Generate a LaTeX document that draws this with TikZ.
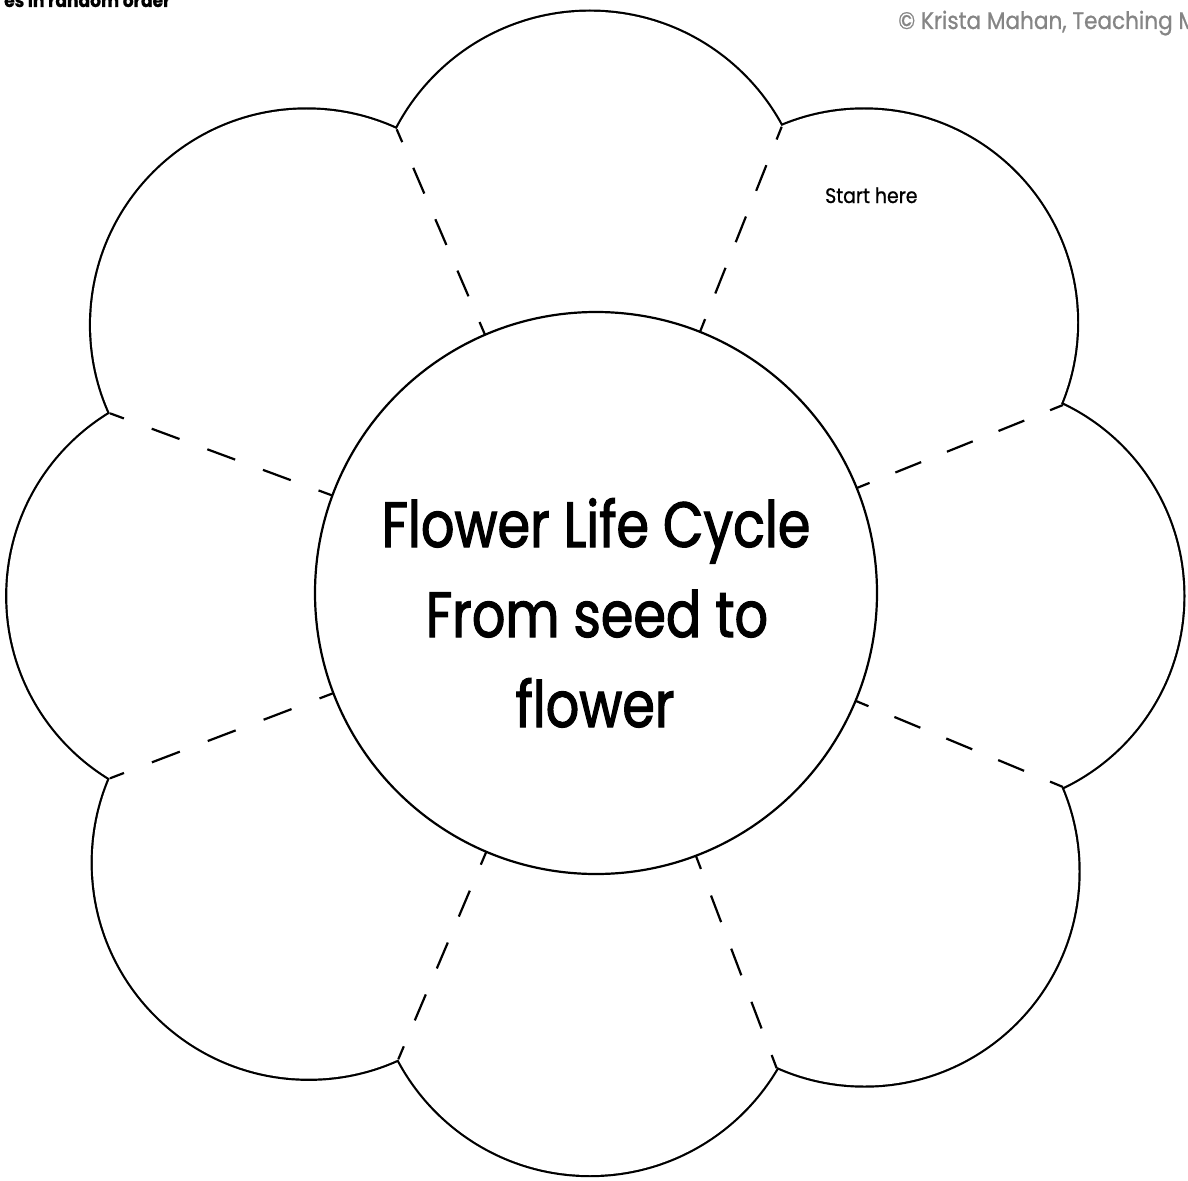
\documentclass[tikz,border=0pt]{standalone}
\usepackage{fontspec}
\setmainfont{Poppins}[FakeStretch=0.82]
\newfontfamily\titlefont{Poppins}[FakeStretch=0.82, FakeBold=1.8]
\newfontfamily\smallfont{Poppins}[FakeStretch=0.9, FakeBold=0.8]
\usetikzlibrary{calc}
\definecolor{copygray}{HTML}{858585}
\tikzset{
  petalline/.style={draw=black, line width=4.4pt},
  petalfill/.style={fill=white},
  cutdash/.style={draw=black, line width=2.2pt},
  hub/.style={circle, draw=black, line width=2.2pt, fill=white, minimum size=562pt, inner sep=0pt},
  titletext/.style={font=\titlefont\fontsize{64}{64}\selectfont, anchor=base, inner sep=0pt},
  smalltext/.style={font=\smallfont\fontsize{21}{21}\selectfont, anchor=base west, inner sep=0pt},
}
\newcommand\cutline[1]{%
  \coordinate (#1e) at ($(C)!281pt!(#1)$);
  \foreach \sa/\sb in {0/0.0625,0.1875/0.3125,0.4375/0.5625,0.6875/0.8125,0.9375/1}
    \draw[cutdash] ($(#1)!\sa!(#1e)$) -- ($(#1)!\sb!(#1e)$);
}
\begin{document}
\begin{tikzpicture}[x=1pt,y=-1pt]
\useasboundingbox (0,0) rectangle (1188,1180);
\clip (0,0) rectangle (1188,1180);
\fill[white] (0,0) rectangle (1188,1180);
% centre and petal centres
\coordinate (C) at (596,593);
\coordinate (P1) at (589.85,229.1);
\coordinate (P2) at (864,322.5);
\coordinate (P3) at (971.5,596);
\coordinate (P4) at (864.5,871.5);
\coordinate (P5) at (590,958.4);
\coordinate (P6) at (308.8,862.7);
\coordinate (P7) at (220.8,596);
\coordinate (P8) at (306.6,325);
% junctions
\coordinate (J1) at (396.7,129.3);
\coordinate (J2) at (781.7,126.7);
\coordinate (J3) at (1063,405);
\coordinate (J4) at (1063,787);
\coordinate (J5) at (776.7,1068.3);
\coordinate (J6) at (398.3,1059.3);
\coordinate (J7) at (110,778.3);
\coordinate (J8) at (110,413.3);
% petal outline (union of circles)
\foreach \n/\r in {P1/217.4,P2/213,P3/211.8,P4/214,P5/216.6,P6/216,P7/213.5,P8/215.5}
  \draw[petalline] (\n) circle[radius=\r];
\foreach \n/\r in {P1/217.4,P2/213,P3/211.8,P4/214,P5/216.6,P6/216,P7/213.5,P8/215.5}
  \fill[petalfill] (\n) circle[radius=\r];
% cut lines
\cutline{J1}\cutline{J2}\cutline{J3}\cutline{J4}
\cutline{J5}\cutline{J6}\cutline{J7}\cutline{J8}
% centre circle
\node[hub] (hub) at (C) {};
\node[titletext] (t1) at (596,547) {Flower Life Cycle};
\node[titletext] (t2) at (597,637) {From seed to};
\node[titletext] (t3) at (595,727) {flower};
\node[smalltext] (start) at (825,203) {Start here};
\node[smalltext, font=\smallfont\fontsize{24}{24}\selectfont, text=copygray] (copy) at (898,29) {© Krista Mahan, Teaching M};
\node[smalltext, font=\smallfont\bfseries\fontsize{19}{19}\selectfont] (note) at (4,7) {es in random order};
\end{tikzpicture}
\end{document}
